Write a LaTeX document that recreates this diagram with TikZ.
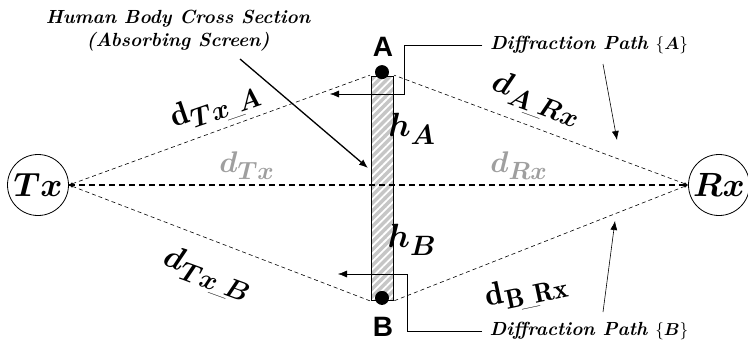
\documentclass[tikz,border=0pt]{standalone}
\usepackage{fontspec}
\setsansfont{Liberation Sans}
\usepackage{amsmath}
\usepackage{bm}
\usetikzlibrary{positioning, arrows.meta, calc, patterns.meta}

\newcommand{\usc}{\!\_\!}

\begin{document}
\begin{tikzpicture}[
  x=1pt, y=-1pt,
  station/.style={draw, circle, thick, minimum size=61pt, inner sep=0pt},
  stationtext/.style={font=\fontsize{24.88}{28}\selectfont, scale=1.35},
  ray/.style={dashed, line width=0.6pt, dash pattern=on 4pt off 3pt},
  los/.style={line width=1.2pt, dash pattern=on 6pt off 4pt},
  edgept/.style={circle, fill=black, minimum size=14pt, inner sep=0pt},
  dist/.style={font=\fontsize{24.88}{28}\selectfont, scale=1.3},
  grey/.style={font=\fontsize{24.88}{28}\selectfont, scale=1.2, text=gray!75},
  height/.style={font=\fontsize{24.88}{28}\selectfont, scale=1.35},
  caption/.style={font=\fontsize{19}{23}\selectfont\bfseries\itshape, align=center},
  corner/.style={font=\sffamily\bfseries\fontsize{28}{30}\selectfont},
  pointer/.style={-{Latex[length=9pt,width=7pt]}},
  bracket/.style={line width=0.5pt, -{Latex[length=9pt,width=7pt]}},
  tiny/.style={{Latex[length=4pt,width=3pt]}-},
]
  \useasboundingbox (0,0) rectangle (748,346);

  % Tx / Rx
  \node[station] (tx) at (38,185) {};
  \node[station] (rx) at (719,185) {};
  \node[stationtext] (txlab) at (tx) {$\bm{Tx}$};
  \node[stationtext] (rxlab) at (rx) {$\bm{Rx}$};

  % absorbing screen
  \node[draw, thick, minimum width=22pt, minimum height=224pt, inner sep=0pt,
    preaction={fill=gray!45},
    pattern={Lines[angle=45, distance=5.5pt, line width=1.8pt]},
    pattern color=white] (screen) at (382,188) {};
  \node[edgept] (ptA) at ([yshift=3pt]screen.north) {};
  \node[edgept] (ptB) at ([yshift=3pt]screen.south) {};
  \node[corner] (labA) at (383,47) {A};
  \node[corner] (labB) at (383,327) {B};

  % rays
  \draw[los] (tx.east) -- (rx.west);
  \draw[ray, tiny] (tx.east) -- (screen.north west);
  \draw[ray, tiny] (tx.east) -- (screen.south west);
  \draw[ray, tiny] (rx.west) -- (screen.north east);
  \draw[ray, tiny] (rx.west) -- (screen.south east);

  % distances
  \node[dist, rotate=19] (dtxa) at (216,107) {$\mathbf{d}_{\bm{Tx\usc A}}$};
  \node[dist, rotate=-20] (dtxb) at (207,275) {$\bm{d_{Tx\usc B}}$};
  \node[dist, rotate=-20] (dar) at (536,100) {$\bm{d_{A\usc Rx}}$};
  \node[dist, rotate=12] (dbr) at (527,292) {$\mathbf{d_{B\usc Rx}}$};
  \node[grey] (dtx) at (247,166) {$\bm{d_{Tx}}$};
  \node[grey] (drx) at (519,166) {$\bm{d_{Rx}}$};
  \node[height] (ha) at (412,129) {$\bm{h_A}$};
  \node[height] (hb) at (412,240) {$\bm{h_B}$};

  % captions
  \node[caption] (body) at (178,31) {Human Body Cross Section\\(Absorbing Screen)};
  \coordinate (bodyfrom) at (240,59);
  \coordinate (bodyto) at (368,168);
  \draw[line width=1.3pt, pointer] (bodyfrom) -- (bodyto);

  \node[caption] (pathA) at (589,45) {Diffraction Path $\{\bm{A}\}$};
  \node[caption] (pathB) at (589,331) {Diffraction Path $\{\bm{B}\}$};
  \coordinate (tipA) at (330,94);
  \coordinate (tipB) at (338,274);
  \coordinate (arrA) at (617,140);
  \coordinate (arrB) at (615,221);
  \draw[bracket] ([xshift=-4pt]pathA.west) -| ([xshift=10pt]screen.east |- tipA) -- (tipA);
  \draw[bracket] ([xshift=-4pt]pathB.west) -| ([xshift=13pt]screen.east |- tipB) -- (tipB);
  \draw[line width=0.6pt, pointer] (603,64) -- (arrA);
  \draw[line width=0.6pt, pointer] (603,312) -- (arrB);
\end{tikzpicture}
\end{document}
